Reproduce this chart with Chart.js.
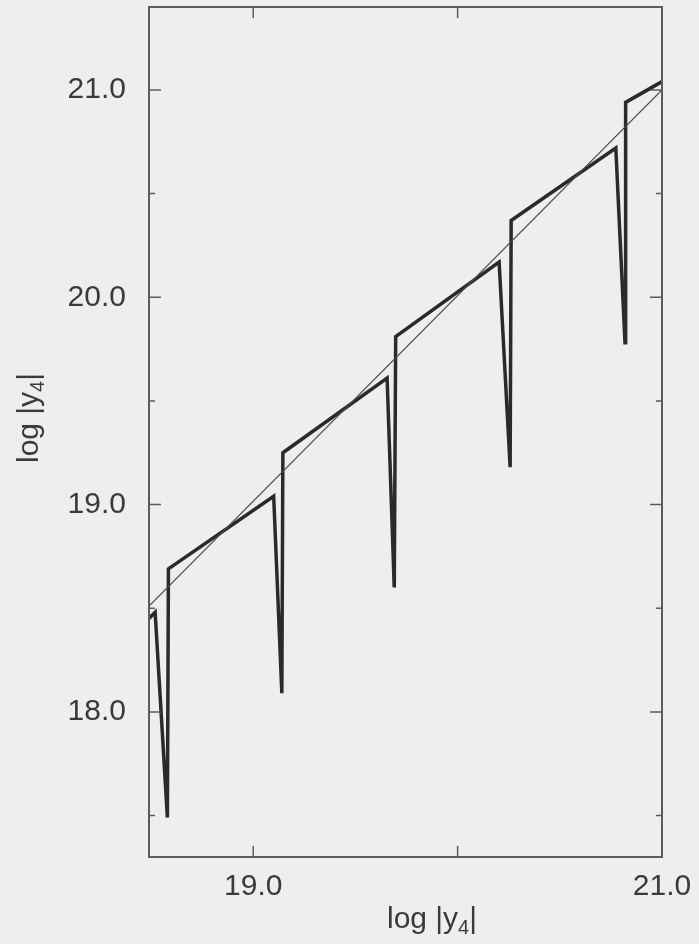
<!DOCTYPE html>
<html lang="en">
<head>
<meta charset="UTF-8">
<title>log |y4| against log |y4|</title>
<script src="https://cdn.jsdelivr.net/npm/chart.js"></script>
<style>
  html, body { margin: 0; padding: 0; background: #eeeeec; }
  canvas { display: block; }
</style>
</head>
<body>
<canvas id="logChart" width="699" height="944"></canvas>
<script>
// sawtooth curve (thick line)
const sawX = [18.49, 18.52, 18.58, 18.585, 19.10, 19.14, 19.145, 19.655, 19.69, 19.697, 20.203, 20.257, 20.262, 20.774, 20.819, 20.822, 21.0];
const sawY = [18.45, 18.48, 17.49, 18.69, 19.04, 18.09, 19.25, 19.61, 18.60, 19.81, 20.17, 19.18, 20.37, 20.72, 19.78, 20.94, 21.04];

// straight reference line (thin)
const refX = [18.49, 21.0];
const refY = [18.51, 21.0];

const xTicks = [19, 20, 21];
const xTickLabels = ['19.0', '', '21.0'];
const yTicks = [17.5, 18, 18.5, 19, 19.5, 20, 20.5, 21];
const yTickLabels = ['', '18.0', '', '19.0', '', '20.0', '', '21.0'];

const axisTitle = 'log |y';
const axisSub = '4';

const FONT = '"Liberation Sans", Arial, Helvetica, sans-serif';
const INK = '#3a3a3a';

function toPoints(xs, ys) {
    return xs.map((v, i) => ({ x: v, y: ys[i] }));
}

// draws "log |y4|" with a real subscript, centred on (cx, baseline)
function drawTitle(ctx, cx, baseline) {
    ctx.font = '30px ' + FONT;
    const w1 = ctx.measureText(axisTitle).width;
    const w3 = ctx.measureText('|').width;
    ctx.font = '20px ' + FONT;
    const w2 = ctx.measureText(axisSub).width;
    let x = cx - (w1 + w2 + w3) / 2;
    ctx.textAlign = 'left';
    ctx.textBaseline = 'alphabetic';
    ctx.font = '30px ' + FONT;
    ctx.fillText(axisTitle, x, baseline);
    x += w1;
    ctx.font = '20px ' + FONT;
    ctx.fillText(axisSub, x, baseline + 6);
    x += w2;
    ctx.font = '30px ' + FONT;
    ctx.fillText('|', x, baseline);
}

const frameAndTicks = {
    id: 'frameAndTicks',
    afterDraw(chart) {
        const { ctx, chartArea: a, scales: { x, y } } = chart;
        ctx.save();
        ctx.strokeStyle = '#5c5c5c';
        ctx.lineWidth = 2;
        ctx.strokeRect(a.left, a.top, a.right - a.left, a.bottom - a.top);

        // inward ticks on all four sides
        ctx.lineWidth = 1.5;
        ctx.beginPath();
        xTicks.forEach(v => {
            const px = x.getPixelForValue(v);
            ctx.moveTo(px, a.bottom); ctx.lineTo(px, a.bottom - 11);
            ctx.moveTo(px, a.top); ctx.lineTo(px, a.top + 11);
        });
        yTicks.forEach(v => {
            const py = y.getPixelForValue(v);
            const len = Number.isInteger(v) ? 12 : 6;
            ctx.moveTo(a.left, py); ctx.lineTo(a.left + len, py);
            ctx.moveTo(a.right, py); ctx.lineTo(a.right - len, py);
        });
        ctx.stroke();

        // axis titles
        ctx.fillStyle = INK;
        drawTitle(ctx, a.left + 283, a.bottom + 71);
        ctx.translate(38, a.top + 411);
        ctx.rotate(-Math.PI / 2);
        drawTitle(ctx, 0, 0);
        ctx.restore();
    }
};

const config = {
    type: 'scatter',
    data: {
        datasets: [
            {
                label: 'reference',
                data: toPoints(refX, refY),
                showLine: true,
                borderColor: '#4a4a4a',
                borderWidth: 1.2,
                pointRadius: 0
            },
            {
                label: 'log |y4|',
                data: toPoints(sawX, sawY),
                showLine: true,
                borderColor: '#2a2a2a',
                borderWidth: 3.5,
                borderJoinStyle: 'miter',
                pointRadius: 0
            }
        ]
    },
    options: {
        responsive: false,
        animation: false,
        layout: { padding: { top: 7, right: 37, left: 0, bottom: 0 } },
        plugins: {
            legend: { display: false },
            tooltip: { enabled: false }
        },
        scales: {
            x: {
                type: 'linear',
                min: 18.49,
                max: 21.0,
                afterBuildTicks: s => { s.ticks = xTicks.map(v => ({ value: v })); },
                afterFit: s => { s.height = 87; s.paddingLeft = 0; s.paddingRight = 0; },
                grid: { display: false, drawTicks: false },
                border: { display: false },
                ticks: {
                    autoSkip: false,
                    maxRotation: 0,
                    padding: 12,
                    color: INK,
                    font: { family: FONT, size: 30 },
                    callback: (v, i) => xTickLabels[i]
                }
            },
            y: {
                type: 'linear',
                min: 17.3,
                max: 21.4,
                afterBuildTicks: s => { s.ticks = yTicks.map(v => ({ value: v })); },
                afterFit: s => { s.width = 149; s.paddingTop = 0; s.paddingBottom = 0; },
                grid: { display: false, drawTicks: false },
                border: { display: false },
                ticks: {
                    autoSkip: false,
                    padding: 23,
                    color: INK,
                    font: { family: FONT, size: 30 },
                    callback: (v, i) => yTickLabels[i]
                }
            }
        }
    },
    plugins: [frameAndTicks]
};

new Chart(document.getElementById('logChart').getContext('2d'), config);
</script>
</body>
</html>
